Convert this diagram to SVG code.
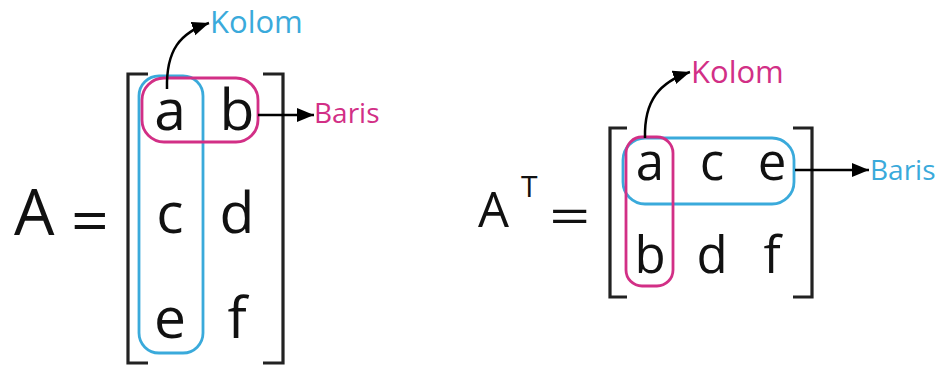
<svg xmlns="http://www.w3.org/2000/svg" width="947" height="368" viewBox="0 0 947 368">
<defs>
<style>
.t{font-family:"Open Sans","Noto Sans",sans-serif;fill:#111}
.br{fill:none;stroke:#222;stroke-width:3.2}
.pk{fill:none;stroke:#D22F86;stroke-width:2.8}
.bl{fill:none;stroke:#3AAADB;stroke-width:2.8}
.ar{fill:none;stroke:#000;stroke-width:2.5}
</style>
<marker id="ah" markerUnits="userSpaceOnUse" markerWidth="20" markerHeight="16" refX="17" refY="7" orient="auto">
<path d="M0,0 L17,7 L0,14 Z" fill="#000"/>
</marker>
</defs>
<rect width="947" height="368" fill="#fff"/>
<g id="matrixA">
<text class="t" x="14" y="235" font-size="64">A</text>
<text class="t" font-size="60" transform="translate(71,242) scale(1.1,1)">=</text>
<path class="br" d="M148,74 H128 V363 H148"/>
<path class="br" d="M263,74 H283 V363 H263"/>
<rect class="bl" x="139" y="76" width="64" height="277" rx="20"/>
<rect class="pk" x="142" y="78" width="116" height="64" rx="22"/>
<g class="t" font-size="57" text-anchor="middle">
<text x="170" y="130">a</text><text x="237" y="130">b</text>
<text x="170" y="233">c</text><text x="237" y="233">d</text>
<text x="170" y="338">e</text><text x="237" y="338">f</text>
</g>
</g>
<g id="matrixAT">
<text class="t" x="478" y="227" font-size="49">A</text>
<text class="t" x="521" y="197" font-size="30">T</text>
<text class="t" font-size="50" transform="translate(549,234) scale(1.45,1)">=</text>
<path class="br" d="M627,128 H610 V297 H627"/>
<path class="br" d="M793,128 H812 V297 H793"/>
<rect class="bl" x="623" y="138" width="171" height="66" rx="22"/>
<rect class="pk" x="626" y="137" width="47" height="149" rx="16"/>
<g class="t" font-size="51" text-anchor="middle">
<text x="650" y="180">a</text><text x="712" y="180">c</text><text x="772" y="180">e</text>
<text x="650" y="273">b</text><text x="712" y="273">d</text><text x="772" y="273">f</text>
</g>
</g>
<g id="labels">
<text class="t" x="210" y="33" font-size="31" style="fill:#3AAADB">Kolom</text>
<text class="t" x="314" y="123" font-size="28" style="fill:#D22F86">Baris</text>
<text class="t" x="691" y="83" font-size="31" style="fill:#D22F86">Kolom</text>
<text class="t" x="870" y="180" font-size="28" style="fill:#3AAADB">Baris</text>
</g>
<g id="connectors">
<path class="ar" d="M167,89 C166,50 180,33 209,23" marker-end="url(#ah)"/>
<path class="ar" d="M258,115 H314" marker-end="url(#ah)"/>
<path class="ar" d="M645,138 C644,100 660,82 690,72" marker-end="url(#ah)"/>
<path class="ar" d="M795,170 H869" marker-end="url(#ah)"/>
</g>
</svg>
